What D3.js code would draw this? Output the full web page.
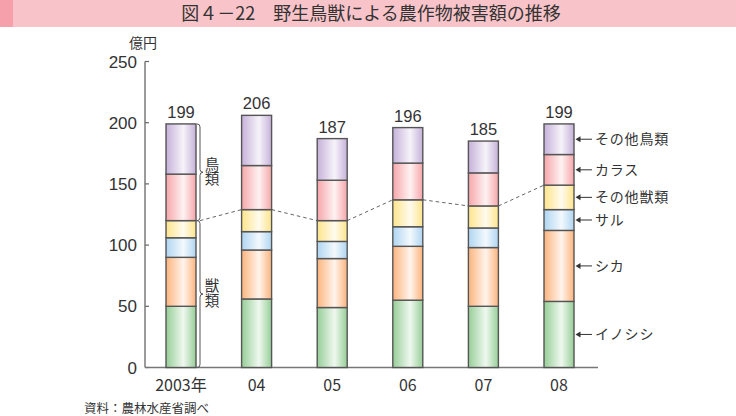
<!DOCTYPE html>
<html><head><meta charset="utf-8">
<script src="https://cdn.jsdelivr.net/npm/d3@7/dist/d3.min.js"></script>
<style>
html,body{margin:0;padding:0;background:#fff;}
svg{display:block;}
text{font-family:"Liberation Sans","Noto Sans CJK JP",sans-serif;fill:#333;}
.jp{font-family:"Noto Sans CJK JP",sans-serif;}
.vt{writing-mode:vertical-rl;text-orientation:upright;}
</style></head>
<body>
<svg id="c" width="736" height="416"></svg>
<script>
const years = ["2003年","04","05","06","07","08"];
const seriesKeys = ["イノシシ","シカ","サル","その他獣類","カラス","その他鳥類"];
const inoshishi   = [50, 56, 49, 55, 50, 54];
const shika       = [40, 40, 40, 44, 48, 58];
const saru        = [16, 15, 14, 16, 16, 17];
const otherBeasts = [14, 18, 17, 22, 18, 20];
const karasu      = [38, 36, 33, 30, 27, 25];
const otherBirds  = [41, 41, 34, 29, 26, 25];
const totals      = [199, 206, 187, 196, 185, 199];
const yTicks      = [0, 50, 100, 150, 200, 250];
const colors = ["#96ce97","#fcb47e","#afd5f1","#fde48b","#f6a6aa","#c6b1da"];

const rows = years.map((y,i)=>({year:y,"イノシシ":inoshishi[i],"シカ":shika[i],"サル":saru[i],
  "その他獣類":otherBeasts[i],"カラス":karasu[i],"その他鳥類":otherBirds[i]}));

const svg = d3.select("#c");
const defs = svg.append("defs");
colors.forEach((c,i)=>{
  const g = defs.append("linearGradient").attr("id","g"+i).attr("x1","0").attr("x2","1").attr("y1","0").attr("y2","0");
  g.append("stop").attr("offset","0").attr("stop-color",c);
  g.append("stop").attr("offset","0.58").attr("stop-color",d3.interpolateRgb(c,"#fff")(0.85));
  g.append("stop").attr("offset","1").attr("stop-color",c);
});

// title band
svg.append("rect").attr("x",0).attr("y",0).attr("width",736).attr("height",27).attr("fill","#f9c4c9");
svg.append("rect").attr("x",0).attr("y",0).attr("width",13).attr("height",27).attr("fill","#f5a0aa");
svg.append("text").attr("class","jp").attr("x",371).attr("y",20).attr("text-anchor","middle")
  .attr("font-size",18).attr("fill","#2a2a2a").text("図４－22　野生鳥獣による農作物被害額の推移");

const x = d3.scalePoint().domain(years).range([181, 559]);
const y = d3.scaleLinear().domain([0,250]).range([367.5, 61.5]);
const bw = 30;

// y axis
svg.append("line").attr("x1",145).attr("x2",145).attr("y1",y(250)).attr("y2",y(0)).attr("stroke","#666").attr("stroke-width",1.3);
yTicks.forEach(t=>{
  svg.append("line").attr("x1",145).attr("x2",149).attr("y1",y(t)).attr("y2",y(t)).attr("stroke","#666").attr("stroke-width",1.2);
  svg.append("text").attr("x",137).attr("y",y(t)+6).attr("text-anchor","end").attr("font-size",17).text(t);
});
svg.append("text").attr("class","jp").attr("x",143).attr("y",48).attr("text-anchor","middle").attr("font-size",14).text("億円");

// baseline
svg.append("line").attr("x1",145).attr("x2",598).attr("y1",y(0)).attr("y2",y(0)).attr("stroke","#777").attr("stroke-width",1.5);

// x labels
years.forEach(yr=>{
  svg.append("text").attr("class","jp").attr("x",x(yr)).attr("y",391).attr("text-anchor","middle").attr("font-size",16).text(yr);
});

const stack = d3.stack().keys(seriesKeys)(rows);
const beastTop = stack[3];

// dashed line connecting beast totals
for(let i=0;i<years.length-1;i++){
  const x1 = x(years[i]) + bw/2 + (i===0?4:0);
  const x2 = x(years[i+1]) - bw/2;
  svg.append("line").attr("x1",x1).attr("x2",x2)
    .attr("y1",y(beastTop[i][1])).attr("y2",y(beastTop[i+1][1]))
    .attr("stroke","#666").attr("stroke-width",1).attr("stroke-dasharray","3.5,3");
}

// bars
stack.forEach((s,si)=>{
  svg.append("g").selectAll("rect").data(s).join("rect")
    .attr("x",d=>x(d.data.year)-bw/2).attr("width",bw)
    .attr("y",d=>y(d[1])).attr("height",d=>y(d[0])-y(d[1]))
    .attr("fill","url(#g"+si+")").attr("stroke","#555").attr("stroke-width",1.4);
});

// totals
years.forEach((yr,i)=>{
  svg.append("text").attr("x",x(yr)).attr("y",y(totals[i])-6).attr("text-anchor","middle").attr("font-size",16.5).text(totals[i]);
});

// braces on first bar
function brace(x0,y1,y2,w){
  const ym=(y1+y2)/2;
  return `M${x0},${y1} q${w},0 ${w},${w} L${x0+w},${ym-w} q0,${w} ${w},${w} q-${w},0 -${w},${w} L${x0+w},${y2-w} q0,${w} -${w},${w}`;
}
const bx = x(years[0]) + bw/2 + 1;
const bTop = y(totals[0]), bMid = y(beastTop[0][1]), bBot = y(0);
svg.append("path").attr("d",brace(bx,bTop,bMid,3)).attr("fill","none").attr("stroke","#555").attr("stroke-width",1);
svg.append("path").attr("d",brace(bx,bMid,bBot,3)).attr("fill","none").attr("stroke","#555").attr("stroke-width",1);
const lab = (txt,cy)=>{
  svg.append("text").attr("class","jp vt").attr("x",bx+15).attr("y",cy)
    .attr("text-anchor","middle").attr("font-size",14.5).text(txt);
};
lab("鳥類",(bTop+bMid)/2-1);
lab("獣類",(bMid+bBot)/2-1);

// legend arrows on last bar
const lastIdx = years.length-1;
const lx = x(years[lastIdx]) + bw/2;
stack.forEach((s,si)=>{
  const d = s[lastIdx];
  const cy = y((d[0]+d[1])/2);
  svg.append("line").attr("x1",lx+4).attr("x2",lx+18).attr("y1",cy).attr("y2",cy).attr("stroke","#333").attr("stroke-width",1);
  svg.append("path").attr("d",`M${lx+1.5},${cy} l5,-3 l0,6 z`).attr("fill","#333");
  svg.append("text").attr("class","jp").attr("x",lx+21).attr("y",cy+5).attr("font-size",14).attr("letter-spacing",0.8).text(seriesKeys[si]);
});

// source
svg.append("text").attr("class","jp").attr("x",84).attr("y",413).attr("font-size",12.5).attr("fill","#333").text("資料：農林水産省調べ");
</script>
</body></html>
